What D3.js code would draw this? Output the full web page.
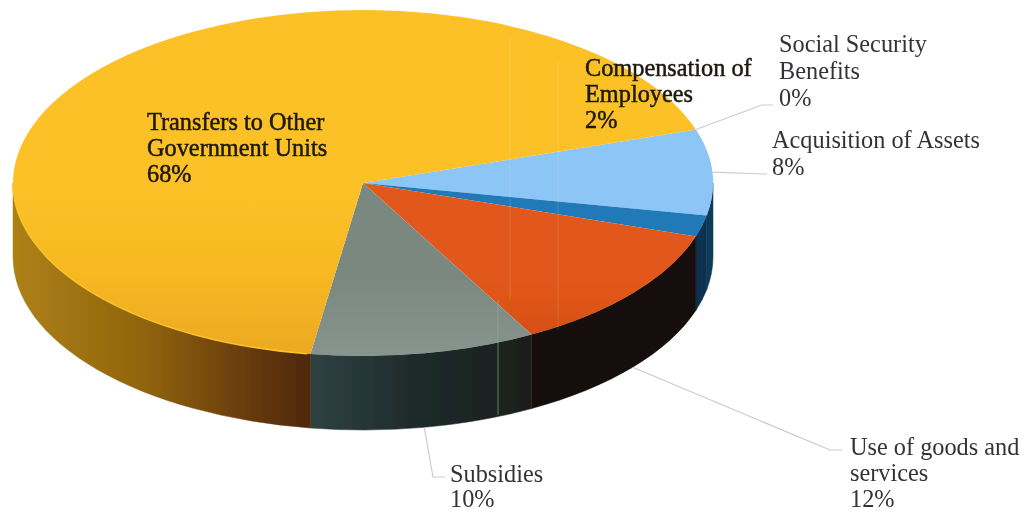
<!DOCTYPE html>
<html>
<head>
<meta charset="utf-8">
<script src="https://cdn.jsdelivr.net/npm/d3@7"></script>
<style>
  html, body { margin: 0; padding: 0; background: #fff; overflow: hidden; }
  text { font-family: "Liberation Serif", serif; font-size: 24.3px; }
</style>
</head>
<body>
<div id="viz"></div>
<script>
// slices in clockwise order, starting at the Social Security leader
const categories = [
  "Social Security Benefits",
  "Acquisition of Assets",
  "Compensation of Employees",
  "Use of goods and services",
  "Subsidies",
  "Transfers to Other Government Units"
];
const values = [0, 8, 2, 12, 10.4, 67.6];
const labelLines = [
  ["Social Security", "Benefits", "0%"],
  ["Acquisition of Assets", "8%"],
  ["Compensation of", "Employees", "2%"],
  ["Use of goods and", "services", "12%"],
  ["Subsidies", "10%"],
  ["Transfers to Other", "Government Units", "68%"]
];

const width = 1025;
const height = 513;
const cx = 363;
const cy = 183;
const rx = 350;
const ry = 173;
const depth = 74;
const startAngle = (72 * Math.PI) / 180;

const topColors = ["#8cc6f7", "#8cc6f7", "#2279b8", "url(#topOrange)", "url(#topGray)", "url(#topYellow)"];
const wallColors = ["#0e3a5a", "#0e3a5a", "#0b3150", "#15100d", "url(#wallGray)", "url(#wallYellow)"];

// label placement: text position + leader elbow points, in page pixels
const labelLayout = [
  { x: 779, y: 52, lineGap: 27, lead: [[762, 105], [773, 105]] },
  { x: 772, y: 148, lineGap: 27, lead: [[763, 174], [767, 174]] },
  { x: 585, y: 76, lineGap: 26, onPie: true },
  { x: 850, y: 455, lineGap: 26, lead: [[830, 450], [842, 450]] },
  { x: 450, y: 482, lineGap: 25, lead: [[433, 477], [445, 477]] },
  { x: 147, y: 130, lineGap: 26, onPie: true }
];

const pie = d3
  .pie()
  .sort(null)
  .value((d) => d)
  .startAngle(startAngle)
  .endAngle(startAngle + 2 * Math.PI);
const slices = pie(values);

const svg = d3
  .select("#viz")
  .append("svg")
  .attr("width", width)
  .attr("height", height)
  .style("display", "block");

const defs = svg.append("defs");

function addGradient(id, horizontal, stops) {
  const grad = defs
    .append("linearGradient")
    .attr("id", id)
    .attr("gradientUnits", "userSpaceOnUse")
    .attr("x1", horizontal ? horizontal[0] : 0)
    .attr("x2", horizontal ? horizontal[1] : 0)
    .attr("y1", horizontal ? 0 : 10)
    .attr("y2", horizontal ? 0 : 360);
  stops.forEach((s) => {
    grad.append("stop").attr("offset", s[0]).attr("stop-color", s[1]);
  });
}
addGradient("topYellow", null, [[0, "#fbc127"], [0.5, "#f7b822"], [1, "#eba821"]]);
addGradient("topOrange", null, [[0.55, "#e2581a"], [1, "#d04a14"]]);
addGradient("topGray", null, [[0.5, "#7a887f"], [1, "#87958f"]]);
addGradient("wallYellow", [12, 312], [[0, "#ae8113"], [0.45, "#8f6310"], [0.8, "#66390b"], [1, "#4d2808"]]);
addGradient("wallGray", [310, 530], [[0, "#2f4143"], [0.45, "#1f2c2b"], [1, "#1a1e1b"]]);

const scan = defs.append("filter").attr("id", "scan");
scan.append("feGaussianBlur").attr("stdDeviation", 0.7);
const scanText = defs.append("filter").attr("id", "scanText");
scanText.append("feGaussianBlur").attr("stdDeviation", 0.45);

const pieGroup = svg.append("g").attr("filter", "url(#scan)");

// point on the ellipse, angle is clockwise from 12 o'clock like d3.arc
const px = (a) => cx + rx * Math.sin(a);
const py = (a) => cy - ry * Math.cos(a);

// side wall only shows on the front half of the pie
function wallPath(a0, a1) {
  const lo = Math.PI / 2;
  const hi = (3 * Math.PI) / 2;
  const s = Math.max(a0, lo);
  const e = Math.min(a1, hi);
  if (e <= s) return null;
  const large = e - s > Math.PI ? 1 : 0;
  return (
    `M${px(s)},${py(s)}` +
    `A${rx},${ry} 0 ${large} 1 ${px(e)},${py(e)}` +
    `L${px(e)},${py(e) + depth}` +
    `A${rx},${ry} 0 ${large} 0 ${px(s)},${py(s) + depth}Z`
  );
}

// walls
pieGroup
  .selectAll("path.wall")
  .data(slices.filter((d) => d.value > 0))
  .enter()
  .append("path")
  .classed("wall", true)
  .attr("d", (d) => wallPath(d.startAngle, d.endAngle))
  .attr("fill", (d) => wallColors[d.index])
  .attr("stroke", (d) => wallColors[d.index])
  .attr("stroke-width", 0.5);

// top faces
const arc = d3.arc().innerRadius(0).outerRadius(rx);
pieGroup
  .selectAll("path.top")
  .data(slices.filter((d) => d.value > 0))
  .enter()
  .append("path")
  .classed("top", true)
  .attr("transform", `translate(${cx},${cy}) scale(1,${ry / rx})`)
  .attr("d", arc)
  .attr("fill", (d) => topColors[d.index]);

// lighter rim along the front of the yellow slice
const yellow = slices[5];
pieGroup
  .append("path")
  .attr("d", () => {
    const s = yellow.startAngle + 0.01;
    const e = (3 * Math.PI) / 2;
    return `M${px(s)},${py(s)}A${rx},${ry} 0 0 1 ${px(e)},${py(e)}`;
  })
  .attr("fill", "none")
  .attr("stroke", "#f8c42c")
  .attr("stroke-width", 1.6);

// faint streaks left by the scanner
const streaks = svg.append("g").attr("fill", "none");
streaks.append("path").attr("d", "M498,300V415").attr("stroke", "#93b58a").attr("stroke-opacity", 0.6);
streaks.append("path").attr("d", "M510,35V300").attr("stroke", "#fff2c0").attr("stroke-opacity", 0.16);
streaks.append("path").attr("d", "M558,60V330").attr("stroke", "#fff2c0").attr("stroke-opacity", 0.14);

// leader lines start on the pie edge at each slice's middle
const leaders = svg.append("g");
slices.forEach((d, i) => {
  const layout = labelLayout[i];
  if (!layout.lead) return;
  const mid = (d.startAngle + d.endAngle) / 2;
  const norm = mid % (2 * Math.PI);
  const front = norm > Math.PI / 2 && norm < (3 * Math.PI) / 2;
  const start = [px(mid), py(mid) + (front ? depth : 0)];
  leaders
    .append("path")
    .attr("d", d3.line()([start, ...layout.lead]))
    .attr("fill", "none")
    .attr("stroke", "#c9ccd0")
    .attr("stroke-width", 1.2);
});

// labels
const labels = svg
  .selectAll("text.label")
  .data(slices)
  .enter()
  .append("text")
  .classed("label", true)
  .attr("x", (d, i) => labelLayout[i].x)
  .attr("y", (d, i) => labelLayout[i].y)
  .attr("filter", "url(#scanText)")
  .attr("fill", (d, i) => (labelLayout[i].onPie ? "#1d1a10" : "#333338"))
  .attr("stroke", (d, i) => (labelLayout[i].onPie ? "#1d1a10" : "none"))
  .attr("stroke-width", 0.5);

labels
  .selectAll("tspan")
  .data((d, i) => labelLines[i].map((line) => ({ line, x: labelLayout[i].x, gap: labelLayout[i].lineGap })))
  .enter()
  .append("tspan")
  .attr("x", (d) => d.x)
  .attr("dy", (d, i) => (i === 0 ? 0 : d.gap))
  .text((d) => d.line);
</script>
</body>
</html>
